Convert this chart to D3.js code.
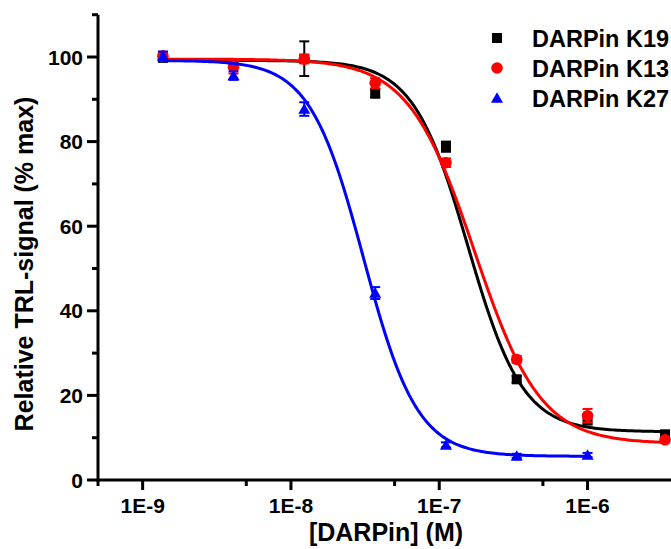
<!DOCTYPE html>
<html><head><meta charset="utf-8">
<script src="https://cdn.jsdelivr.net/npm/d3@7"></script>
<style>
html,body{margin:0;padding:0;background:#fff;}
svg{display:block;font-family:"Liberation Sans",Arial,sans-serif;font-weight:bold;}
</style></head>
<body>
<svg id="chart" width="671" height="549"></svg>
<script>
// ---- data ----
const seriesNames = ["DARPin K19", "DARPin K13", "DARPin K27"];
const seriesColors = ["#000000", "#ff0000", "#0000ff"];
const seriesShapes = ["square", "circle", "triangle"];
const concK19 = [1.37e-9, 4.1e-9, 1.23e-8, 3.7e-8, 1.11e-7, 3.33e-7, 1e-6, 3.33e-6];
const valK19  = [99.8, 98.5, 99.6, 91.4, 78.8, 23.8, 14.3, 10.8];
const errK19  = [0.8, 1.0, 4.1, 1.0, 1.2, 0.8, 1.2, 0.6];
const concK13 = [1.37e-9, 4.1e-9, 1.23e-8, 3.7e-8, 1.11e-7, 3.33e-7, 1e-6, 3.33e-6];
const valK13  = [100.2, 97.6, 99.5, 93.8, 75.0, 28.5, 15.2, 9.5];
const errK13  = [1.0, 1.5, 1.0, 1.2, 1.0, 0.8, 1.6, 0.6];
const concK27 = [1.37e-9, 4.1e-9, 1.23e-8, 3.7e-8, 1.11e-7, 3.33e-7, 1e-6];
const valK27  = [100.3, 95.6, 87.7, 44.2, 8.3, 5.7, 5.9];
const errK27  = [1.0, 1.0, 1.6, 1.4, 0.6, 0.5, 0.5];
// dose-response fit parameters (bottom, top, EC50, Hill slope) per series
const fitBottom = [11.4, 8.6, 5.6];
const fitTop    = [99.2, 99.5, 99.2];
const fitEC50   = [1.56e-7, 1.73e-7, 3.09e-8];
const fitHill   = [2.35, 1.95, 2.4];
// axis ticks
const xMajorTicks = [1e-9, 1e-8, 1e-7, 1e-6];
const xTickLabels = ["1E-9", "1E-8", "1E-7", "1E-6"];
const xMinorTicks = [5e-10, 5e-9, 5e-8, 5e-7, 5e-6];
const yMajorTicks = [0, 20, 40, 60, 80, 100];
const yMinorTicks = [10, 30, 50, 70, 90, 110];

const svg = d3.select("#chart");
const x = d3.scaleLog().domain([5e-10, 5e-6]).range([98, 691.2]);
const y = d3.scaleLinear().domain([0, 110]).range([480, 14.7]);

const concs = [concK19, concK13, concK27];
const vals = [valK19, valK13, valK27];
const errs = [errK19, errK13, errK27];

// axes
const axisG = svg.append("g");
axisG.append("line").attr("x1", x(5e-10)).attr("x2", 671).attr("y1", y(0)).attr("y2", y(0))
  .attr("stroke", "#000").attr("stroke-width", 3);
axisG.append("line").attr("x1", x(5e-10)).attr("x2", x(5e-10)).attr("y1", y(0) + 1.5).attr("y2", y(110))
  .attr("stroke", "#000").attr("stroke-width", 3);
xMajorTicks.forEach(t => axisG.append("line").attr("x1", x(t)).attr("x2", x(t)).attr("y1", y(0)).attr("y2", y(0) + 10)
  .attr("stroke", "#000").attr("stroke-width", 3));
xMinorTicks.forEach(t => axisG.append("line").attr("x1", x(t)).attr("x2", x(t)).attr("y1", y(0)).attr("y2", y(0) + 6)
  .attr("stroke", "#000").attr("stroke-width", 3));
yMajorTicks.forEach(t => axisG.append("line").attr("x1", x(5e-10) - 11).attr("x2", x(5e-10)).attr("y1", y(t)).attr("y2", y(t))
  .attr("stroke", "#000").attr("stroke-width", 3));
yMinorTicks.forEach(t => axisG.append("line").attr("x1", x(5e-10) - 6).attr("x2", x(5e-10)).attr("y1", y(t)).attr("y2", y(t))
  .attr("stroke", "#000").attr("stroke-width", 3));
xMajorTicks.forEach((t, i) => axisG.append("text").attr("x", x(t)).attr("y", 513).attr("text-anchor", "middle")
  .attr("font-size", 21).text(xTickLabels[i]));
yMajorTicks.forEach(t => axisG.append("text").attr("x", 83).attr("y", y(t)).attr("dy", "0.36em").attr("text-anchor", "end")
  .attr("font-size", 21).text(t));
svg.append("text").attr("x", 386).attr("y", 541).attr("text-anchor", "middle").attr("font-size", 25).text("[DARPin] (M)");
svg.append("text").attr("transform", "translate(33,264) rotate(-90)").attr("text-anchor", "middle").attr("font-size", 25)
  .text("Relative TRL-signal (% max)");

// markers
function marker(g, shape, color, cx, cy, s) {
  if (shape === "square") {
    g.append("rect").attr("x", cx - s / 2).attr("y", cy - s / 2).attr("width", s).attr("height", s).attr("fill", color);
  } else if (shape === "circle") {
    g.append("circle").attr("cx", cx).attr("cy", cy).attr("r", s / 2 + 0.8).attr("fill", color);
  } else {
    const h = s * 0.95;
    g.append("path").attr("d", `M${cx},${cy - h / 2 - 1}L${cx + s / 2 + 1},${cy + h / 2}L${cx - s / 2 - 1},${cy + h / 2}Z`).attr("fill", color);
  }
}

const line = d3.line().x(d => x(d[0])).y(d => y(d[1]));
seriesNames.forEach((name, i) => {
  const g = svg.append("g");
  const c = concs[i], v = vals[i], e = errs[i], col = seriesColors[i];
  // fitted curve
  const lo = Math.log10(d3.min(c)), hi = Math.log10(d3.max(c));
  const pts = d3.range(0, 201).map(k => {
    const lx = lo + (hi - lo) * k / 200;
    const xv = Math.pow(10, lx);
    return [xv, fitBottom[i] + (fitTop[i] - fitBottom[i]) / (1 + Math.pow(xv / fitEC50[i], fitHill[i]))];
  });
  g.append("path").attr("d", line(pts)).attr("fill", "none").attr("stroke", col).attr("stroke-width", 3);
  // error bars and markers
  c.forEach((cv, j) => {
    const cx = x(cv);
    g.append("line").attr("x1", cx).attr("x2", cx).attr("y1", y(v[j] - e[j])).attr("y2", y(v[j] + e[j]))
      .attr("stroke", col).attr("stroke-width", 2);
    [v[j] - e[j], v[j] + e[j]].forEach(ev => g.append("line").attr("x1", cx - 5).attr("x2", cx + 5)
      .attr("y1", y(ev)).attr("y2", y(ev)).attr("stroke", col).attr("stroke-width", 2));
    marker(g, seriesShapes[i], col, cx, y(v[j]), 10);
  });
});

// legend
const leg = svg.append("g");
seriesNames.forEach((name, i) => {
  const cy = 38 + i * 30;
  marker(leg, seriesShapes[i], seriesColors[i], 497, cy, 10);
  leg.append("text").attr("x", 532).attr("y", cy + 8.5).attr("font-size", 23.5).text(name);
});
</script>
</body></html>
